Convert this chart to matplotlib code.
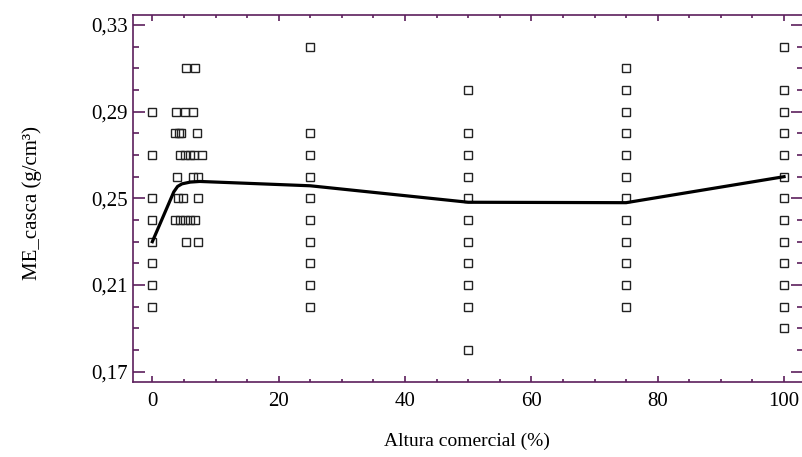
import numpy as np
import matplotlib.pyplot as plt

# scatter data: altura comercial (%) vs ME_casca (g/cm3)
x0 = [0, 0, 0, 0, 0, 0, 0, 0]
y0 = [0.29, 0.27, 0.25, 0.24, 0.23, 0.22, 0.21, 0.20]

# points near the 1.30 m height (x varies per tree)
xc = [5.3, 6.7,
      3.8, 5.2, 6.4,
      3.6, 4.2, 4.6, 7.0,
      4.4, 5.1, 5.9, 6.6, 7.8,
      3.9, 6.5, 7.2,
      4.0, 4.9, 7.3,
      3.6, 4.4, 5.2, 5.9, 6.7,
      5.3, 7.2]
yc = [0.31, 0.31,
      0.29, 0.29, 0.29,
      0.28, 0.28, 0.28, 0.28,
      0.27, 0.27, 0.27, 0.27, 0.27,
      0.26, 0.26, 0.26,
      0.25, 0.25, 0.25,
      0.24, 0.24, 0.24, 0.24, 0.24,
      0.23, 0.23]

y25 = [0.32, 0.28, 0.27, 0.26, 0.25, 0.24, 0.23, 0.22, 0.21, 0.20]
y50 = [0.30, 0.28, 0.27, 0.26, 0.25, 0.24, 0.23, 0.22, 0.21, 0.20, 0.18]
y75 = [0.31, 0.30, 0.29, 0.28, 0.27, 0.26, 0.25, 0.24, 0.23, 0.22, 0.21, 0.20]
y100 = [0.32, 0.30, 0.29, 0.28, 0.27, 0.26, 0.25, 0.24, 0.23, 0.22, 0.21, 0.20, 0.19]

# mean line
line_x = [0, 3.4, 4.0, 4.7, 6.0, 7.5, 25, 50, 75, 100]
line_y = [0.23, 0.253, 0.2555, 0.2567, 0.2575, 0.2578, 0.2558, 0.2482, 0.248, 0.260]

xs = x0 + xc + [25]*len(y25) + [50]*len(y50) + [75]*len(y75) + [100]*len(y100)
ys = y0 + yc + y25 + y50 + y75 + y100

purple = '#5c1f5c'
plt.rcParams['font.family'] = ['Liberation Serif', 'DejaVu Serif']

fig = plt.figure(figsize=(8.02, 4.57), dpi=100)
ax = fig.add_axes([133/802, 1-382/457, 670/802, 367/457])

ax.plot(xs, ys, 's', ms=5.2, mfc='none', mec='#222222', mew=1.0, zorder=2)
ax.plot(line_x, line_y, '-', color='black', lw=2.3, zorder=3)

ax.set_xlim(-3.06, 103.0)
ax.set_ylim(0.16525, 0.33461)
ax.set_xticks([0, 20, 40, 60, 80, 100])
ax.set_xticks(np.arange(0, 101, 5), minor=True)
yt = [0.17, 0.21, 0.25, 0.29, 0.33]
ax.set_yticks(yt)
ax.set_yticklabels([('%.2f' % v).replace('.', ',') for v in yt])
ax.set_yticks(np.arange(0.17, 0.335, 0.01), minor=True)

for s in ax.spines.values():
    s.set_color(purple)
    s.set_linewidth(1.2)

ax.tick_params(axis='both', which='both', direction='in', color=purple,
               top=True, right=True, labelsize=15, width=1.2)
ax.tick_params(axis='x', which='major', length=4.3, pad=7)
ax.tick_params(axis='x', which='minor', length=2.2)
ax.tick_params(axis='y', which='major', length=8.6, pad=3.5)
ax.tick_params(axis='y', which='minor', length=4.6)

fig.text(467/802, 1-441/457, 'Altura comercial (%)', ha='center', va='center', fontsize=14)
fig.text(32/802, 1-203/457, 'ME_casca (g/cm³)', ha='center', va='center',
         rotation=90, fontsize=15)

fig.savefig('out.png', dpi=100)
